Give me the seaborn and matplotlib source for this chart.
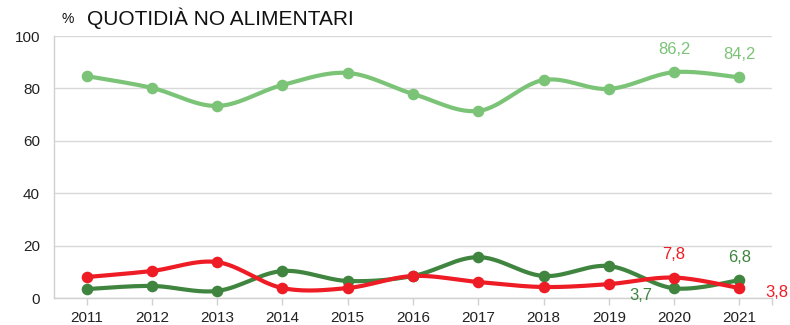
import numpy as np
import pandas as pd
import matplotlib
matplotlib.use("Agg")
import matplotlib.pyplot as plt
import seaborn as sns

years = ["2011", "2012", "2013", "2014", "2015", "2016", "2017", "2018", "2019", "2020", "2021"]
si_valori = [84.7, 80.2, 73.3, 81.3, 85.9, 77.9, 71.4, 83.2, 79.8, 86.2, 84.2]
altro_valori = [3.4, 4.6, 2.7, 10.3, 6.5, 8.4, 15.6, 8.4, 12.2, 3.7, 6.8]
no_valori = [8.0, 10.3, 13.7, 3.8, 3.8, 8.4, 6.1, 4.2, 5.3, 7.8, 3.8]

series = [
    ("Sì", si_valori, "#7BC477"),
    ("Altro", altro_valori, "#3F853F"),
    ("No", no_valori, "#EE1C25"),
]

sns.set_theme(style="white")
plt.rcParams["font.family"] = ["Liberation Sans", "DejaVu Sans"]


def smooth(xs, ys, n=30, tension=1 / 6):
    """Cardinal-spline (Bezier) smoothing through every point."""
    xs = np.asarray(xs, float)
    ys = np.asarray(ys, float)
    px = np.concatenate([[xs[0]], xs, [xs[-1]]])
    py = np.concatenate([[ys[0]], ys, [ys[-1]]])
    outx, outy = [], []
    t = np.linspace(0, 1, n)
    for i in range(1, len(px) - 2):
        p0 = np.array([px[i], py[i]])
        p3 = np.array([px[i + 1], py[i + 1]])
        c1 = p0 + tension * (np.array([px[i + 1], py[i + 1]]) - np.array([px[i - 1], py[i - 1]]))
        c2 = p3 - tension * (np.array([px[i + 2], py[i + 2]]) - np.array([px[i], py[i]]))
        b = ((1 - t) ** 3)[:, None] * p0 + (3 * (1 - t) ** 2 * t)[:, None] * c1 \
            + (3 * (1 - t) * t ** 2)[:, None] * c2 + (t ** 3)[:, None] * p3
        outx.extend(b[:, 0])
        outy.extend(b[:, 1])
    return np.array(outx), np.array(outy)


fig = plt.figure(figsize=(7.9, 3.25), dpi=100)
ax = fig.add_axes([54 / 790, 1 - 298 / 325, (772 - 54) / 790, (298 - 36) / 325])

x = np.arange(len(years))
for name, vals, color in series:
    sx, sy = smooth(x, vals)
    curve = pd.DataFrame({"x": sx, "y": sy})
    sns.lineplot(data=curve, x="x", y="y", ax=ax, color=color, linewidth=3.0,
                 sort=False, estimator=None, solid_capstyle="round", zorder=3)
    pts = pd.DataFrame({"x": x, "y": vals})
    sns.scatterplot(data=pts, x="x", y="y", ax=ax, color=color, s=70,
                    edgecolor=color, linewidth=0, zorder=4)

ax.set_xlim(-0.5, len(years) - 0.5)
ax.set_ylim(0, 100)
ax.set_yticks(range(0, 101, 20))
ax.set_xticks(x)
ax.set_xticklabels(years)
ax.set_xlabel("")
ax.set_ylabel("")
ax.grid(axis="y", color="#D9D9D9", linewidth=1.0)
ax.set_axisbelow(True)
for side in ["top", "right"]:
    ax.spines[side].set_visible(False)
for side in ["left", "bottom"]:
    ax.spines[side].set_color("#D0D0D0")
    ax.spines[side].set_linewidth(1.0)
ax.tick_params(axis="y", length=0, labelsize=11, pad=10, colors="#222222")
ax.tick_params(axis="x", length=5, width=1, color="#D0D0D0", labelsize=11,
               pad=4, labelcolor="#222222", direction="out", bottom=True)
ax.set_xticks([len(years) - 0.5], minor=True)
ax.tick_params(axis="x", which="minor", length=5, width=1, color="#D0D0D0", bottom=True)

# value labels for the last years
lab = dict(fontsize=12)
ax.annotate("86,2", (9, si_valori[9]), xytext=(0, 11), textcoords="offset points",
            ha="center", va="bottom", color=series[0][2], **lab)
ax.annotate("84,2", (10, si_valori[10]), xytext=(0, 11), textcoords="offset points",
            ha="center", va="bottom", color=series[0][2], **lab)
ax.annotate("7,8", (9, no_valori[9]), xytext=(0, 11), textcoords="offset points",
            ha="center", va="bottom", color=series[2][2], **lab)
ax.annotate("6,8", (10, altro_valori[10]), xytext=(0, 11), textcoords="offset points",
            ha="center", va="bottom", color=series[1][2], **lab)
ax.annotate("3,7", (9, altro_valori[9]), xytext=(-24, -5), textcoords="offset points",
            ha="center", va="center", color=series[1][2], **lab)
ax.annotate("3,8", (10, no_valori[10]), xytext=(27, -3), textcoords="offset points",
            ha="center", va="center", color=series[2][2], annotation_clip=False, **lab)

fig.text(62 / 790, 1 - 19 / 325, "%", fontsize=10, ha="left", va="center", color="#111111")
fig.text(87 / 790, 1 - 18 / 325, "QUOTIDIÀ NO ALIMENTARI", fontsize=15, ha="left",
         va="center", color="#111111")

fig.savefig("out.png", dpi=100)
